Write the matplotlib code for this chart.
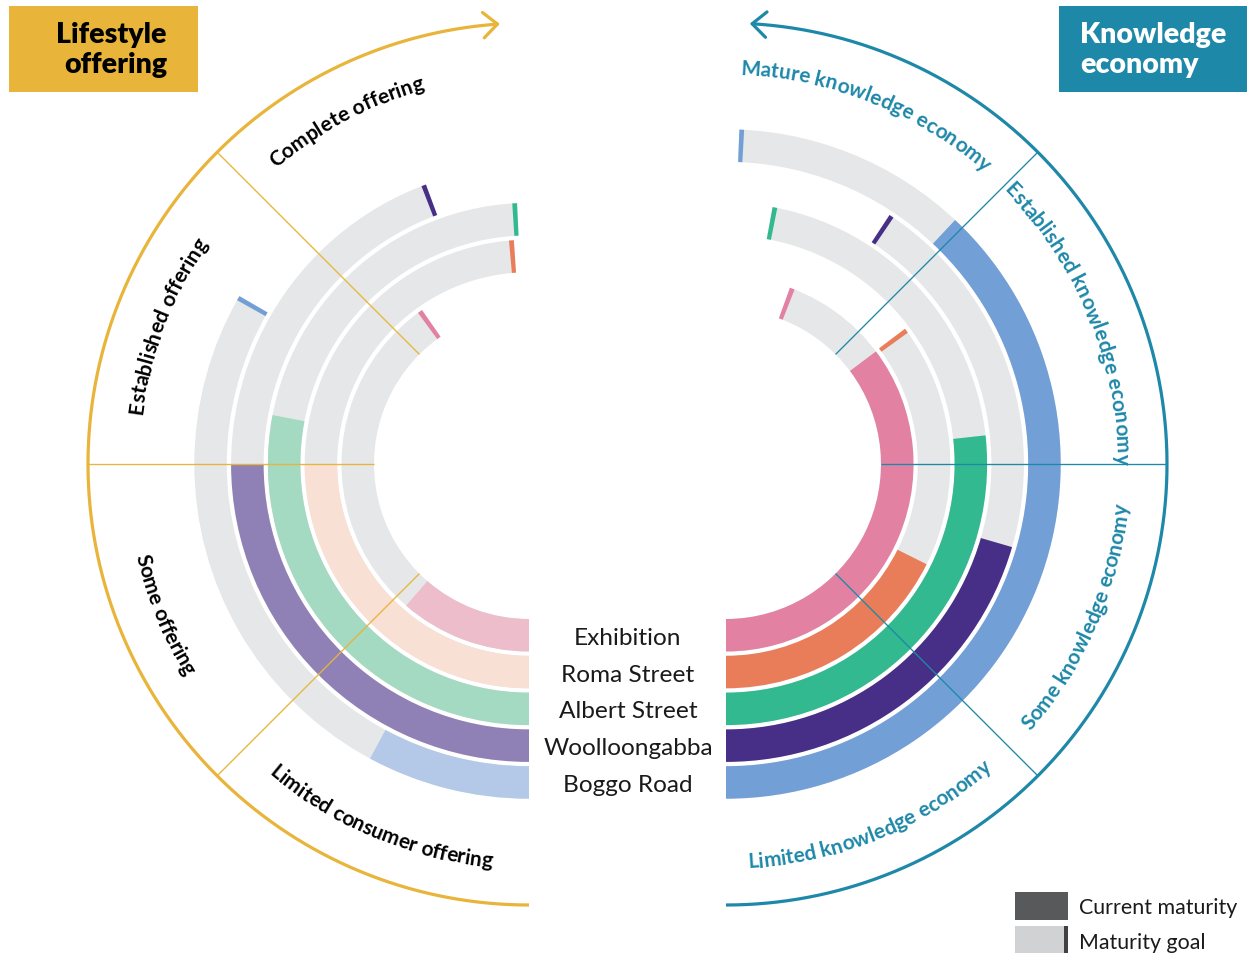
import numpy as np
import matplotlib
matplotlib.use("Agg")
import matplotlib.pyplot as plt
from matplotlib.patches import Wedge, Rectangle
from matplotlib.font_manager import FontProperties

# ---------------- data (maturity on a 0-4 scale, 4 = full half circle) -------------
stations = ["Exhibition", "Roma Street", "Albert Street", "Woolloongabba", "Boggo Road"]
lifestyle_levels = ["Limited consumer offering", "Some offering",
                    "Established offering", "Complete offering"]
knowledge_levels = ["Limited knowledge economy", "Some knowledge economy",
                    "Established knowledge economy", "Mature knowledge economy"]
lifestyle_current = [0.91, 2.00, 2.24, 2.00, 0.63]
lifestyle_goal = [3.21, 3.90, 3.93, 3.54, 2.66]
knowledge_current = [2.82, 1.41, 2.14, 1.64, 3.04]
knowledge_goal = [3.54, 2.81, 3.76, 3.25, 3.94]
legend_labels = ["Current maturity", "Maturity goal"]

light_colors = ["#EDBDCB", "#F9E0D5", "#A4D9C2", "#8F81B6", "#B3C9E7"]
dark_colors = ["#E281A2", "#EA7D59", "#33B98F", "#472E86", "#729FD5"]
GRAY = "#E6E7E8"
YELLOW = "#E8B43A"
TEAL = "#1E88A8"

# ---------------- canvas ----------------
W, H = 1247, 954
fig = plt.figure(figsize=(W / 100, H / 100), dpi=100)
ax = fig.add_axes([0, 0, 1, 1])
ax.set_xlim(0, W)
ax.set_ylim(0, H)
ax.axis("off")


def Y(y):
    return H - y


CL = (529, Y(465))
CR = (726, Y(465))
R0, STEP, WID = 155, 36.8, 32.5
DEG = 45.0
ROUT = 441
TICK = 4.5


def theta(side, a):
    return 270 - a if side == "L" else -90 + a


def wedge(side, c, r, a0, a1, color, z):
    t0, t1 = theta(side, a0), theta(side, a1)
    lo, hi = min(t0, t1), max(t0, t1)
    ax.add_patch(Wedge(c, r + WID, lo, hi, width=WID, facecolor=color,
                       edgecolor="none", zorder=z))


def draw_side(side, c, current, goal, curcols, linecol):
    for i in range(len(stations)):
        r = R0 + i * STEP
        rmid = r + WID / 2
        dt = np.degrees(TICK / rmid)
        ag = goal[i] * DEG
        ac = current[i] * DEG
        wedge(side, c, r, 0, ag + dt / 2, GRAY, 1)
        wedge(side, c, r, 0, ac, curcols[i], 2)
        wedge(side, c, r, ag - dt / 2, ag + dt / 2, dark_colors[i], 3)
    for k in (1, 2, 3):
        t = np.radians(theta(side, k * DEG))
        ax.plot([c[0] + R0 * np.cos(t), c[0] + ROUT * np.cos(t)],
                [c[1] + R0 * np.sin(t), c[1] + ROUT * np.sin(t)],
                color=linecol, lw=0.95, zorder=4, solid_capstyle="butt")


draw_side("L", CL, lifestyle_current, lifestyle_goal, light_colors, YELLOW)
draw_side("R", CR, knowledge_current, knowledge_goal, dark_colors, TEAL)


# outer arcs with arrows
def outer_arc(side, c, a_end, color):
    aa = np.linspace(0, a_end, 400)
    tt = np.radians(theta(side, aa))
    ax.plot(c[0] + ROUT * np.cos(tt), c[1] + ROUT * np.sin(tt), color=color,
            lw=2.3, zorder=4, solid_capstyle="butt")
    te = tt[-1]
    tip = np.array([c[0] + ROUT * np.cos(te), c[1] + ROUT * np.sin(te)])
    if side == "L":
        d = np.array([np.sin(te), -np.cos(te)])
    else:
        d = np.array([-np.sin(te), np.cos(te)])
    back = -d
    for s in (-1, 1):
        ang = np.radians(42 * s)
        rot = np.array([[np.cos(ang), -np.sin(ang)], [np.sin(ang), np.cos(ang)]])
        p = tip + 19 * rot @ back
        ax.plot([tip[0], p[0]], [tip[1], p[1]], color=color, lw=2.3, zorder=4,
                solid_capstyle="round")


outer_arc("L", CL, 175.9, YELLOW)
outer_arc("R", CR, 176.6, TEAL)

# ---------------- curved labels ----------------
fig.canvas.draw()
renderer = fig.canvas.get_renderer()


def curved_text(side, c, a_center, R, s, fp, color, clockwise):
    wx = renderer.get_text_width_height_descent("x", fp, ismath=False)[0]

    def w(p):
        if not p:
            return 0.0
        return renderer.get_text_width_height_descent(p + "x", fp, ismath=False)[0] - wx

    total = w(s)
    tc = np.radians(theta(side, a_center))
    for i, ch in enumerate(s):
        if ch == " ":
            continue
        off = (w(s[:i]) + w(s[:i + 1])) / 2 - total / 2
        if clockwise:
            t = tc - off / R
            rot = np.degrees(t) - 90
        else:
            t = tc + off / R
            rot = np.degrees(t) + 90
        ax.text(c[0] + R * np.cos(t), c[1] + R * np.sin(t), ch, fontproperties=fp,
                color=color, rotation=rot, rotation_mode="anchor",
                ha="center", va="baseline", zorder=6)


fp_lab = FontProperties(family="Lato", weight="bold", size=15)
left_centers = [22.7, 67.7, 111.0, 152.0]
right_centers = [22.2, 66.6, 112.4, 158.3]
for k in range(4):
    up = k >= 2
    R = 390 if up else 404
    curved_text("L", CL, left_centers[k], R, lifestyle_levels[k], fp_lab, "black", up)
    curved_text("R", CR, right_centers[k], R, knowledge_levels[k], fp_lab, TEAL, up)

# ---------------- station labels ----------------
fp_st = FontProperties(family="Lato", weight="normal", size=17.6)
for i, name in enumerate(stations):
    r = R0 + i * STEP + WID / 2
    ax.text(628, CL[1] - r, name, fontproperties=fp_st, color="#1A1A1A",
            ha="center", va="center_baseline", zorder=6)

# ---------------- title boxes ----------------
fp_t = FontProperties(family="Lato", weight="heavy", size=20.5)
ax.add_patch(Rectangle((9, Y(93)), 189, 86, facecolor=YELLOW, edgecolor="none", zorder=5))
ax.text(167, Y(50), "Lifestyle\noffering", fontproperties=fp_t, color="black",
        ha="right", va="center", multialignment="right", linespacing=1.2, zorder=6)
ax.add_patch(Rectangle((1059, Y(93)), 188, 86, facecolor=TEAL, edgecolor="none", zorder=5))
ax.text(1080, Y(50), "Knowledge\neconomy", fontproperties=fp_t, color="white",
        ha="left", va="center", multialignment="left", linespacing=1.2, zorder=6)

# ---------------- legend ----------------
fp_lg = FontProperties(family="Lato", weight="normal", size=15.4)
ax.add_patch(Rectangle((1015, Y(921)), 53, 28, facecolor="#58595B", edgecolor="none"))
ax.add_patch(Rectangle((1015, Y(954)), 53, 27, facecolor="#D1D2D4", edgecolor="none"))
ax.add_patch(Rectangle((1064, Y(954)), 4, 27, facecolor="#414042", edgecolor="none"))
ax.text(1079, Y(906), legend_labels[0], fontproperties=fp_lg, color="#1A1A1A",
        ha="left", va="center_baseline")
ax.text(1079, Y(941), legend_labels[1], fontproperties=fp_lg, color="#1A1A1A",
        ha="left", va="center_baseline")

fig.savefig("out.png", dpi=100)
